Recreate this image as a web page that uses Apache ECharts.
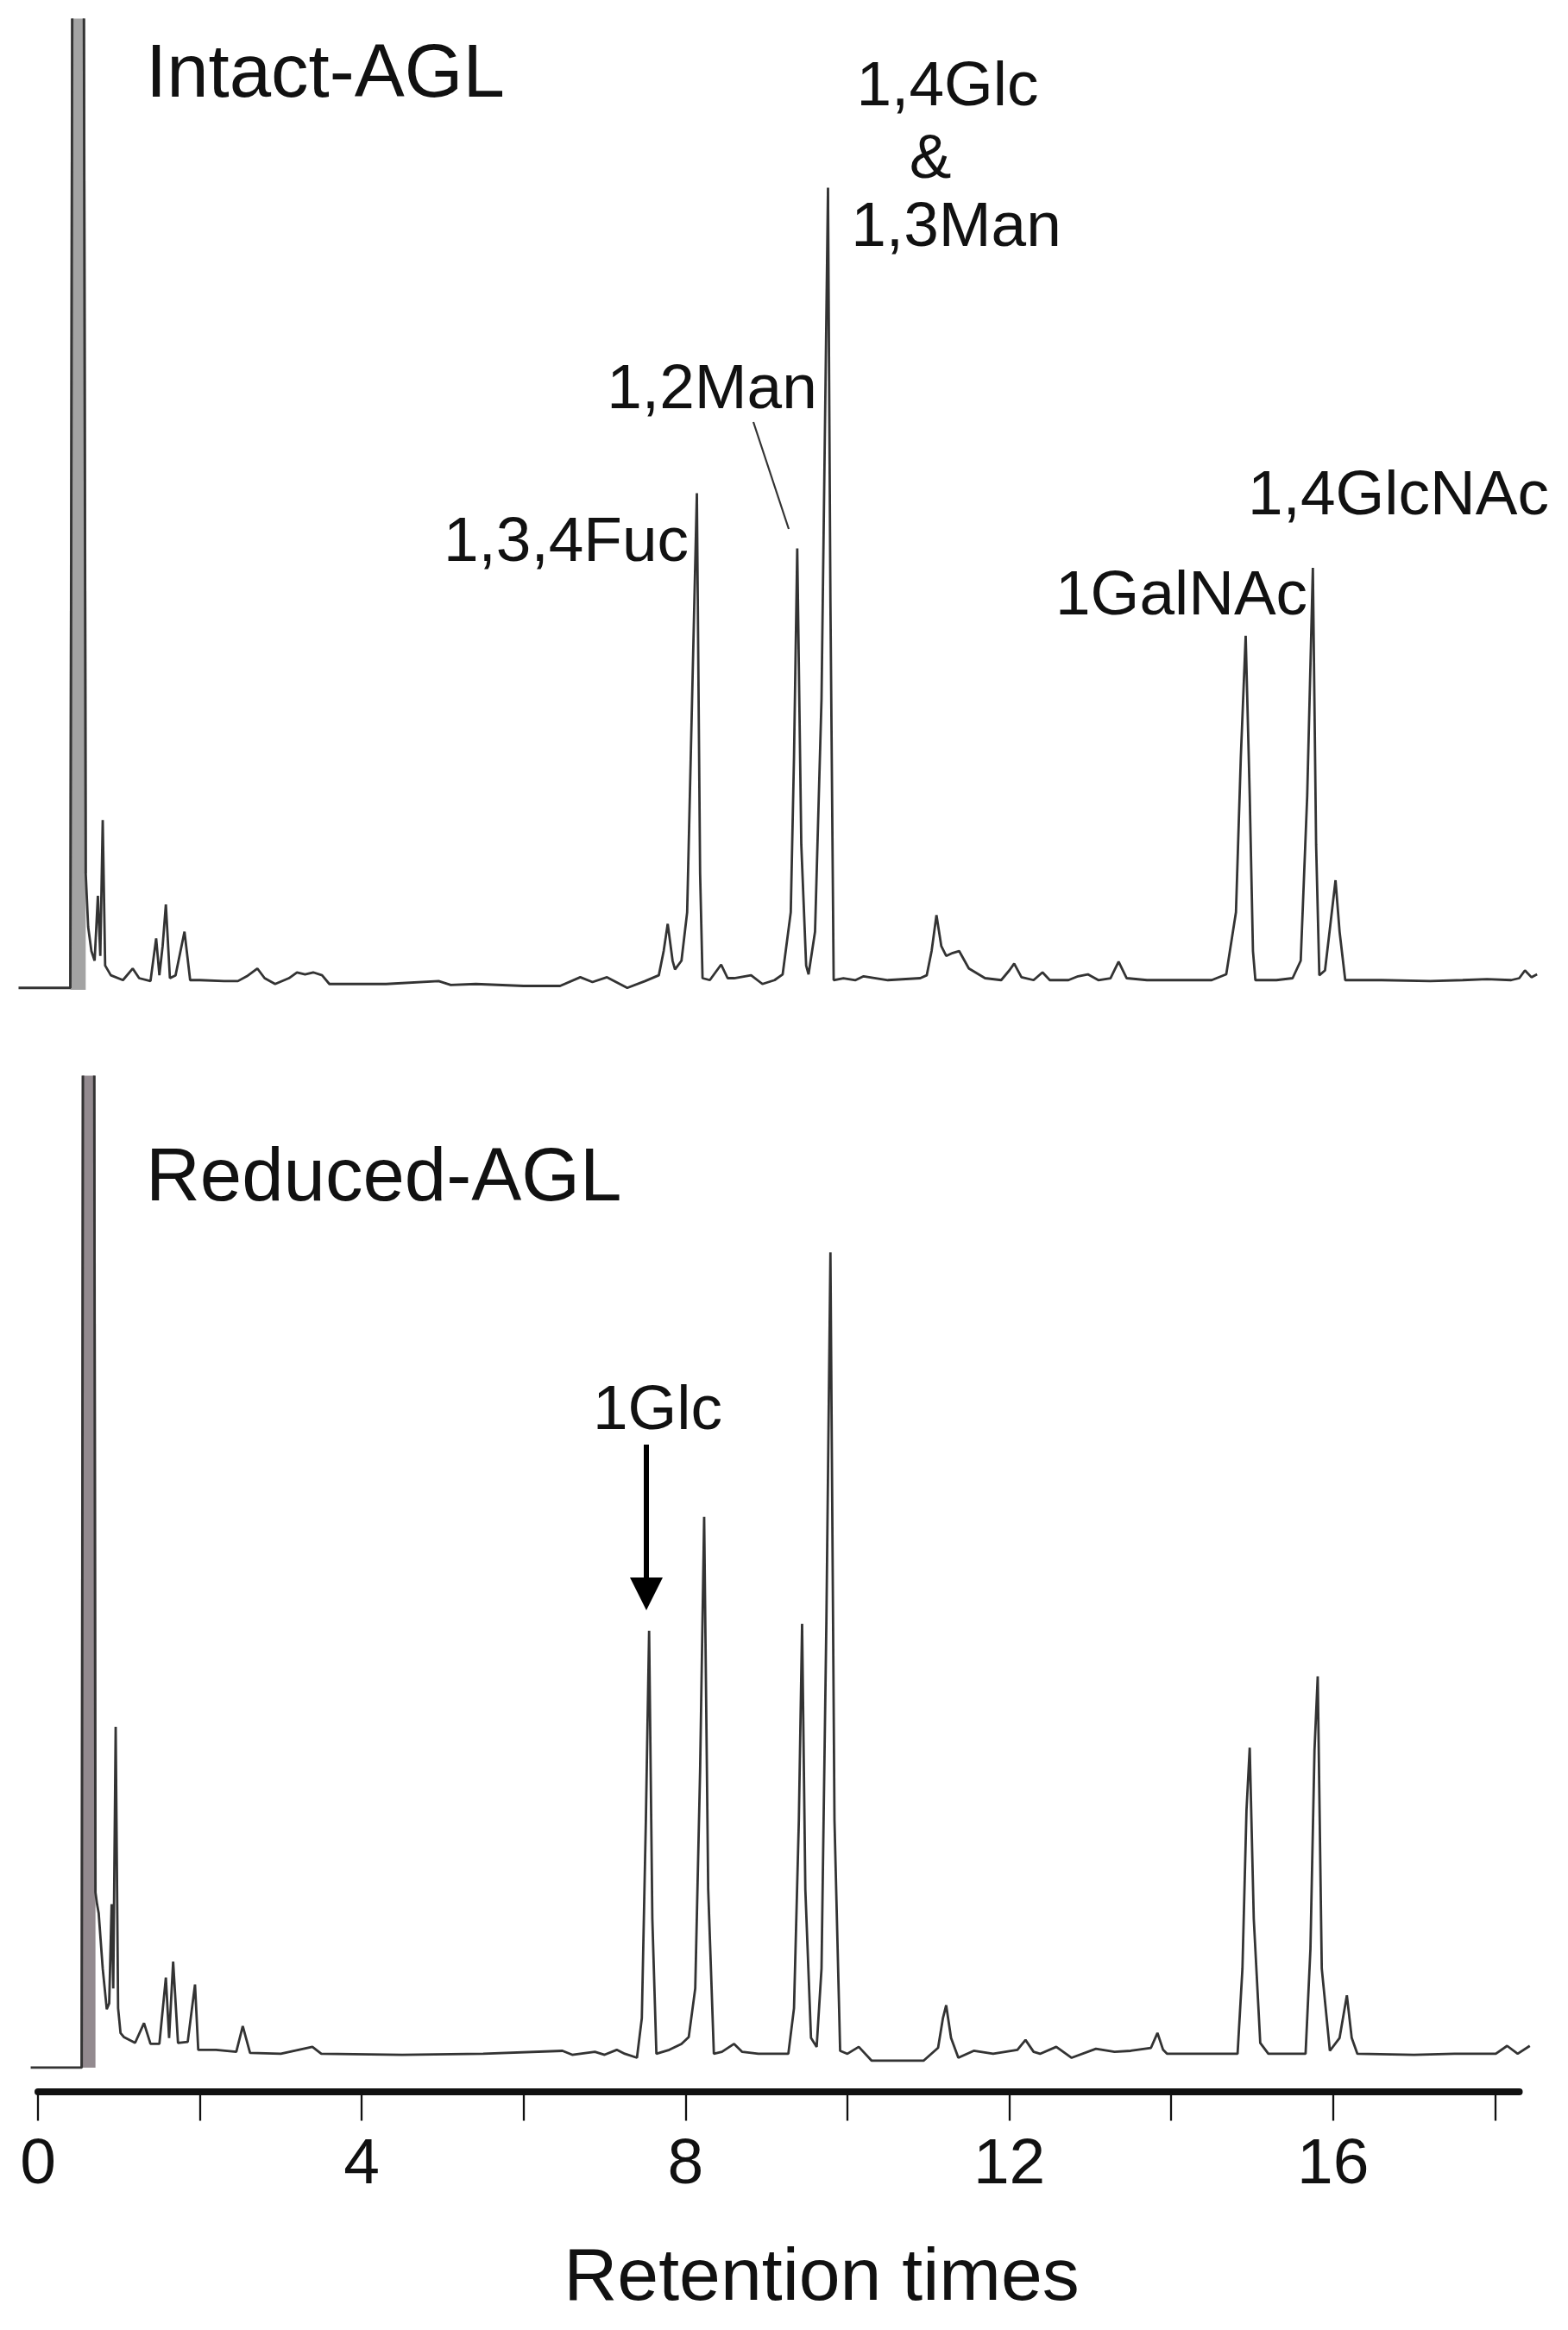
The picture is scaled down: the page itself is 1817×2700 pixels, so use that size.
<!DOCTYPE html>
<html><head><meta charset="utf-8">
<script src="https://cdn.jsdelivr.net/npm/echarts@6/dist/echarts.min.js"></script>
<style>html,body{margin:0;padding:0;background:#fff}#c{width:1817px;height:2700px}</style>
</head><body><div id="c"></div><script>
// Retention time (min), relative detector signal (0-100, solvent peak off-scale)
const intactTrace = [
 [-0.24,0.2],[0.40,0.2],[0.43,130],[0.56,130],[0.59,12],[0.62,6.5],[0.66,4.0],[0.70,3.0],[0.74,9.7],[0.77,3.5],[0.80,17.5],[0.83,2.5],
 [0.90,1.5],[1.05,1.0],[1.17,2.2],[1.25,1.2],[1.39,0.9],[1.46,5.3],[1.50,1.5],[1.54,4.5],[1.58,8.8],[1.63,1.2],[1.70,1.5],[1.81,6.0],
 [1.88,1.0],[2.0,1.0],[2.3,0.9],[2.47,0.9],[2.58,1.4],[2.71,2.2],[2.8,1.2],[2.93,0.6],[3.1,1.2],[3.2,1.8],[3.3,1.6],[3.4,1.8],[3.51,1.5],
 [3.6,0.6],[4.3,0.6],[4.95,0.9],[5.1,0.5],[5.41,0.6],[6.0,0.4],[6.45,0.4],[6.7,1.3],[6.85,0.8],[7.03,1.3],[7.28,0.2],[7.5,0.9],[7.67,1.5],
 [7.73,4.0],[7.78,6.8],[7.84,3.0],[7.87,2.1],[7.95,3.0],[8.02,8.0],[8.07,26],[8.14,51.2],[8.18,12],[8.21,1.2],[8.3,1.0],[8.44,2.6],
 [8.52,1.2],[8.6,1.2],[8.81,1.5],[8.95,0.6],[9.1,1.0],[9.2,1.6],[9.3,8],[9.34,24],[9.38,45.5],[9.43,15],[9.49,2.5],[9.52,1.6],[9.6,6],
 [9.68,30],[9.76,82.7],[9.79,40],[9.83,1.0],[9.95,1.2],[10.1,1.0],[10.2,1.4],[10.5,1.0],[10.9,1.2],[10.98,1.5],[11.04,4],[11.1,7.7],
 [11.16,4.5],[11.22,3.5],[11.3,3.8],[11.38,4.0],[11.5,2.2],[11.7,1.2],[11.9,1.0],[12.0,2.0],[12.06,2.7],[12.15,1.3],[12.3,1.0],[12.41,1.8],
 [12.5,1.0],[12.73,1.0],[12.85,1.4],[12.97,1.6],[13.1,1.0],[13.25,1.2],[13.35,2.9],[13.45,1.2],[13.7,1.0],[14.5,1.0],[14.68,1.6],[14.8,8],
 [14.86,24],[14.92,36.5],[14.97,20],[15.01,4],[15.04,1.0],[15.3,1.0],[15.5,1.2],[15.6,3],[15.68,20],[15.75,43.5],[15.79,15],[15.83,1.5],
 [15.9,2.0],[15.97,7],[16.03,11.3],[16.08,6],[16.15,1.0],[16.6,1.0],[17.2,0.9],[17.6,1.0],[17.9,1.1],[18.2,1.0],[18.3,1.2],[18.37,2.0],
 [18.45,1.3],[18.52,1.6]
];
const reducedTrace = [
 [-0.09,0.0],[0.54,0.0],[0.56,130],[0.69,130],[0.71,17.7],[0.73,16.5],[0.75,15.6],[0.80,10],[0.85,5.9],[0.88,6.5],[0.91,16.5],[0.93,8],
 [0.96,34.4],[0.99,6],[1.02,3.5],[1.06,3.1],[1.2,2.5],[1.31,4.5],[1.39,2.4],[1.5,2.4],[1.58,9.1],[1.62,3.0],[1.67,10.7],[1.73,2.5],
 [1.85,2.6],[1.94,8.4],[1.98,1.8],[2.2,1.8],[2.45,1.6],[2.53,4.2],[2.62,1.5],[3.0,1.4],[3.39,2.1],[3.5,1.4],[4.5,1.3],[5.5,1.4],
 [6.48,1.7],[6.6,1.3],[6.88,1.6],[7.0,1.3],[7.15,1.8],[7.25,1.4],[7.4,1.0],[7.46,5],[7.51,25],[7.55,44.1],[7.59,15],[7.64,1.4],
 [7.8,1.8],[7.95,2.4],[8.04,3.1],[8.12,8],[8.18,30],[8.23,55.6],[8.28,18],[8.35,1.4],[8.45,1.6],[8.6,2.4],[8.7,1.6],[8.9,1.4],
 [9.27,1.4],[9.34,6],[9.4,25],[9.44,44.8],[9.48,18],[9.55,3],[9.62,2.1],[9.68,10],[9.74,45],[9.79,82.3],[9.84,25],[9.91,1.7],
 [10.0,1.4],[10.14,2.1],[10.3,0.7],[10.94,0.7],[11.12,2],[11.18,5],[11.22,6.3],[11.28,3],[11.37,1.0],[11.56,1.7],[11.8,1.4],[12.1,1.8],
 [12.2,2.8],[12.3,1.6],[12.38,1.4],[12.58,2.1],[12.77,1.0],[13.07,1.9],[13.3,1.6],[13.5,1.7],[13.75,2.0],[13.83,3.5],[13.9,1.8],[13.95,1.4],
 [14.82,1.4],[14.88,10],[14.93,26],[14.97,32.3],[15.02,15],[15.1,2.5],[15.2,1.4],[15.66,1.4],[15.72,12],[15.77,32],[15.81,39.5],[15.86,10],
 [15.96,1.7],[16.08,3],[16.17,7.3],[16.23,3],[16.3,1.4],[17.0,1.3],[17.5,1.4],[18.01,1.4],[18.15,2.2],[18.28,1.4],[18.43,2.2]
];
// solvent front (off-scale) time windows
const intactSolvent = [0.40, 0.59];
const reducedSolvent = [0.54, 0.71];
const tickValues = [0,2,4,6,8,10,12,14,16,18];
const tickLabels = [0,4,8,12,16];
const axisTitle = 'Retention times';
const panelTitles = ['Intact-AGL','Reduced-AGL'];

const FONT = '"Liberation Sans", Arial, sans-serif';
const X_MIN = -0.3, X_MAX = 18.6, PX_PER_MIN = 93.8, ORIGIN_PX = 44;
const gridLeft = ORIGIN_PX + X_MIN * PX_PER_MIN;
const gridWidth = (X_MAX - X_MIN) * PX_PER_MIN;

const chart = echarts.init(document.getElementById('c'), null, {renderer:'canvas'});
const lineStyle = {color:'#333', width:2.8};
const inWin = (w) => (p) => p[0] >= w[0] && p[0] <= w[1];
function txt(text, x, y, size, align){
  return {type:'text', z:100, style:{text, x, y, fill:'#111', font:`${size}px ${FONT}`,
    textAlign: align||'left', textVerticalAlign:'middle'}};
}
chart.setOption({
  backgroundColor:'#fff',
  animation:false,
  grid:[
    {left:gridLeft, top:23, width:gridWidth, height:1124},
    {left:gridLeft, top:1248, width:gridWidth, height:1148},
    {left:ORIGIN_PX, top:2399, width:18.3*PX_PER_MIN, height:24.5}
  ],
  xAxis:[
    {gridIndex:0, type:'value', min:X_MIN, max:X_MAX, show:false},
    {gridIndex:1, type:'value', min:X_MIN, max:X_MAX, show:false},
    {gridIndex:2, type:'value', min:0, max:18.3, position:'bottom',
     axisLine:{show:true, lineStyle:{color:'#111', width:8}},
     axisTick:{show:true, length:34, customValues:tickValues, lineStyle:{color:'#111', width:2.3}},
     axisLabel:{show:true, customValues:tickLabels, margin:48, color:'#111', fontSize:75, fontFamily:FONT},
     splitLine:{show:false}}
  ],
  yAxis:[
    {gridIndex:0, type:'value', min:0, max:100, show:false},
    {gridIndex:1, type:'value', min:0, max:100, show:false},
    {gridIndex:2, type:'value', min:0, max:1, show:false}
  ],
  series:[
    {name:'solvent-intact', type:'line', xAxisIndex:0, yAxisIndex:0, data:intactTrace.filter(inWin(intactSolvent)),
     showSymbol:false, clip:true, z:1, lineStyle:{color:'#888', width:3}, areaStyle:{color:'#a3a3a3', opacity:1}},
    {name:'solvent-reduced', type:'line', xAxisIndex:1, yAxisIndex:1, data:reducedTrace.filter(inWin(reducedSolvent)),
     showSymbol:false, clip:true, z:1, lineStyle:{color:'#857c81', width:3}, areaStyle:{color:'#938a8f', opacity:1}},
    {name:panelTitles[0], type:'line', xAxisIndex:0, yAxisIndex:0, data:intactTrace, showSymbol:false, clip:true, z:2, lineStyle},
    {name:panelTitles[1], type:'line', xAxisIndex:1, yAxisIndex:1, data:reducedTrace, showSymbol:false, clip:true, z:2, lineStyle}
  ],
  graphic:[
    txt(panelTitles[0], 169, 88, 87),
    txt(panelTitles[1], 169, 1367, 87),
    txt('1,4Glc', 1098, 102, 73, 'center'),
    txt('&', 1078, 186, 73, 'center'),
    txt('1,3Man', 1108, 265, 73, 'center'),
    txt('1,2Man', 825, 453, 73, 'center'),
    txt('1,3,4Fuc', 798, 630, 73, 'right'),
    txt('1GalNAc', 1223, 692, 73),
    txt('1,4GlcNAc', 1446, 576, 73),
    txt('1Glc', 762, 1636, 73, 'center'),
    txt(axisTitle, 952, 2641, 86, 'center'),
    {type:'line', z:100, shape:{x1:873,y1:489,x2:914,y2:613}, style:{stroke:'#333', lineWidth:2.2}},
    {type:'line', z:100, shape:{x1:749,y1:1674,x2:749,y2:1832}, style:{stroke:'#000', lineWidth:6}},
    {type:'polygon', z:100, shape:{points:[[730,1828],[768,1828],[749,1866]]}, style:{fill:'#000'}}
  ]
});
</script></body></html>
